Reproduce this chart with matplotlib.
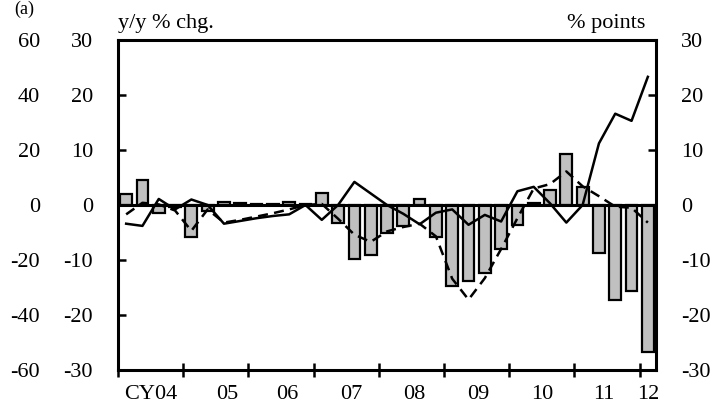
import numpy as np
import matplotlib
matplotlib.use("Agg")
import matplotlib.pyplot as plt

plt.rcParams['font.family'] = ['Liberation Serif', 'DejaVu Serif']
plt.rcParams['axes.unicode_minus'] = False

# quarterly data, CY2004 Q1 .. CY2012 Q1
bars = [2.0, 4.5, -1.5, -0.4, -5.8, -1.1, 0.6, 0.3, 0.2, 0.2, 0.6, 0.1,
        2.1, -3.2, -9.8, -9.0, -5.1, -3.9, 1.1, -5.9, -14.7, -13.9, -12.4,
        -8.0, -3.6, 0.4, 2.8, 9.3, 3.2, -8.8, -17.2, -15.6, -26.8]
solid = [-3.4, -3.8, 1.1, -0.8, 1.0, 0.0, -3.4, -2.9, -2.4, -2.0, -1.7, 0.0,
         -2.7, 0.0, 4.2, 2.1, 0.0, -1.6, -3.5, -1.4, -0.8, -3.6, -1.8, -3.0,
         2.5, 3.3, 0.3, -3.2, 0.0, 11.2, 16.6, 15.3, 23.3]
dashed = [-1.7, 0.4, 0.1, -1.0, -4.7, -0.8, -3.2, -2.7, -2.1, -1.5, -0.8, 0.0,
          0.2, -2.5, -5.4, -6.7, -4.8, -4.0, -3.4, -5.7, -13.4, -17.2, -13.3,
          -8.0, -2.4, 3.0, 3.8, 6.1, 3.4, 1.6, -0.3, -0.5, -3.2]
year_labels = ["CY04", "05", "06", "07", "08", "09", "10", "11", "12"]
inner_ticks = [-30, -20, -10, 0, 10, 20, 30]
outer_ticks = [-60, -40, -20, 0, 20, 40, 60]

x = np.arange(len(bars))
FS = 16

fig = plt.figure(figsize=(7.15, 4.12), dpi=100)
ax = fig.add_axes([118/715, 1-370/412, (656-118)/715, 330/412])

# outer left scale (no spine, labels only)
ax2 = ax.twinx()
ax2.set_ylim(-60, 60)
ax2.set_yticks(outer_ticks)
ax2.yaxis.set_ticks_position("left")
ax2.tick_params(axis="y", length=0, pad=56, labelsize=FS)
for s in ax2.spines.values():
    s.set_visible(False)

ax.bar(x, bars, width=0.72, color="#c0c0c0", edgecolor="black", linewidth=1.6, zorder=2)
ax.plot(x, solid, color="black", lw=1.8, zorder=4)
ax.plot(x, dashed, color="black", lw=1.8, ls=(0, (4, 2.5)), zorder=4)
ax.axhline(0, color="black", lw=2.2, zorder=3)

ax.set_xlim(-0.5, len(bars) - 0.5)
ax.set_ylim(-30, 30)

# year ticks, labels placed between them
ax.set_xticks(np.arange(-0.5, len(bars), 4))
ax.set_xticklabels([])
ax.tick_params(axis="x", direction="inout", length=10, width=1.8)
label_pos = [1.5, 6.2, 9.9, 13.8, 17.7, 21.6, 25.5, 29.3, 32.0]
for p, lab in zip(label_pos, year_labels):
    ax.text(p, -0.045, lab, transform=ax.get_xaxis_transform(),
            ha="center", va="top", fontsize=FS)

ax.set_yticks(inner_ticks)
ax.tick_params(axis="y", direction="in", length=6, width=1.8, labelsize=FS,
               pad=18, left=True, right=True, labelleft=True, labelright=True)
for s in ax.spines.values():
    s.set_linewidth(2.2)

ax.text(0.0, 1.02, "y/y % chg.", transform=ax.transAxes, ha="left", va="bottom", fontsize=FS)
ax.text(0.98, 1.02, "% points", transform=ax.transAxes, ha="right", va="bottom", fontsize=FS)
fig.text(0.02, 0.998, "(a)", ha="left", va="top", fontsize=13)

fig.savefig("out.png", dpi=100)
